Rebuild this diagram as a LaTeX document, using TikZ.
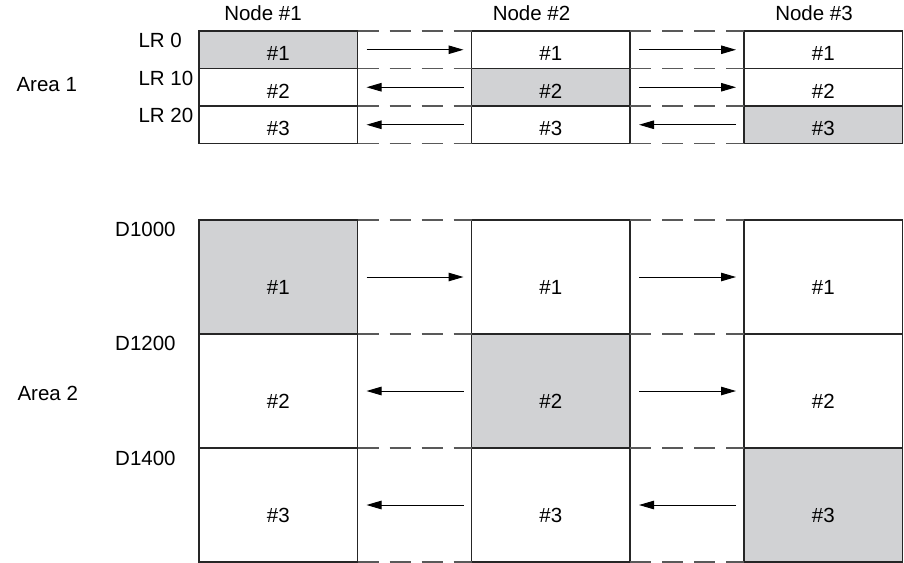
\documentclass[tikz,border=0pt]{standalone}
\usepackage{fontspec}
\setmainfont{Liberation Sans}
\usetikzlibrary{arrows.meta}
\definecolor{owncell}{RGB}{209,210,212}

\begin{document}
\begin{tikzpicture}[x=1pt, y=-1pt, font=\fontsize{20.5}{24}\selectfont,
  cell/.style={draw=black!85, line width=1.1pt, inner sep=0pt, outer sep=0pt,
    text depth=0pt, minimum width=158.5pt, anchor=north west},
  smallcell/.style={cell, minimum height=37.5pt, text height=22pt},
  bigcell/.style={cell, minimum height=114pt, text height=34.6pt},
  gapline/.style={gray!70!black, line width=1.1pt, dash pattern=on 21pt off 11pt},
  xfer/.style={line width=1pt, -{Triangle[length=15pt,width=8.5pt]}}]
  \useasboundingbox (0,0) rectangle (904,562);
  % --- area 1: LR words, one column per node ---
  \foreach \c/\x in {1/199,2/471.5,3/744}
    \foreach \r/\y in {1/31,2/68.5,3/106} {
      \ifnum\c=\r \def\fc{owncell}\else \def\fc{white}\fi
      \node[smallcell, fill=\fc] (lr-\c-\r) at (\x,\y) {\#\r};
    }
  % --- area 2: DM words ---
  \foreach \c/\x in {1/199,2/471.5,3/744}
    \foreach \r/\y in {1/220,2/334,3/448} {
      \ifnum\c=\r \def\fc{owncell}\else \def\fc{white}\fi
      \node[bigcell, fill=\fc] (dm-\c-\r) at (\x,\y) {\#\r};
    }
  % --- dashed row lines across the gaps ---
  \foreach \a in {lr,dm}
    \foreach \c/\n in {1/2,2/3} {
      \foreach \r in {1,2,3}
        \draw[gapline] (\a-\c-\r.north east) -- (\a-\n-\r.north west);
      \draw[gapline] (\a-\c-3.south east) -- (\a-\n-3.south west);
    }
  % --- transfer arrows (outward from the owning node) ---
  \foreach \a in {lr,dm}
    \foreach \c/\n in {1/2,2/3}
      \foreach \r in {1,2,3} {
        \ifnum\r>\c
          \draw[xfer] ([xshift=-8pt]\a-\n-\r.west) -- ([xshift=9pt]\a-\c-\r.east);
        \else
          \draw[xfer] ([xshift=9pt]\a-\c-\r.east) -- ([xshift=-8pt]\a-\n-\r.west);
        \fi
      }
  % --- headings and row labels ---
  \foreach \c/\x in {1/263,2/531.5,3/814}
    \node[anchor=base] (head-\c) at (\x,20.7) {Node \#\c};
  \foreach \r/\t/\y in {1/0/47,2/10/85,3/20/122.7}
    \node[anchor=base west] (lrlab-\r) at (135,\y) {LR \t};
  \foreach \r/\t/\y in {1/1000/236.7,2/1200/350.7,3/1400/465}
    \node[anchor=base west] (dmlab-\r) at (111.7,\y) {D\t};
  \node[anchor=base west] (area-1) at (13,91.7) {Area 1};
  \node[anchor=base west] (area-2) at (14,400) {Area 2};
\end{tikzpicture}
\end{document}
